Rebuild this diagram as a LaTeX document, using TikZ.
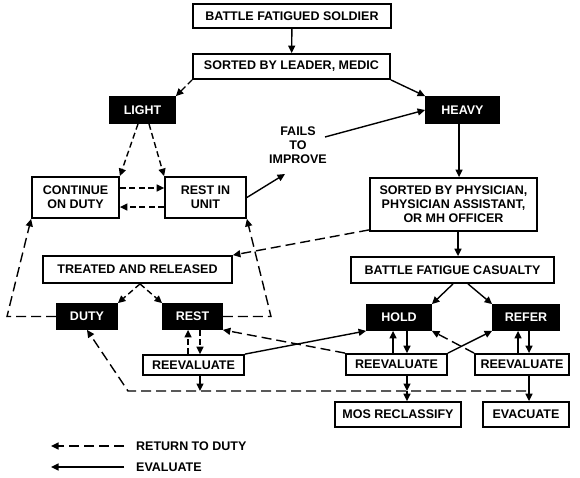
\documentclass[tikz,border=0pt]{standalone}
\usepackage{fontspec}
\setmainfont{Liberation Sans}
\usetikzlibrary{arrows.meta,calc}
\begin{document}
\begin{tikzpicture}[x=1pt,y=-1pt,
  every node/.style={font=\fontsize{12.5}{14}\selectfont\bfseries, inner sep=0pt},
  wbox/.style 2 args={draw, line width=1.8pt, fill=white, minimum width=#1, minimum height=#2, align=center},
  bbox/.style 2 args={draw, line width=1.8pt, fill=black, text=white, minimum width=#1, minimum height=#2, align=center},
  sol/.style={line width=1.4pt, -{Triangle[length=7.5pt,width=7pt]}},
  ds/.style={sol, dash pattern=on 6pt off 3.5pt},
  dl/.style={sol, dash pattern=on 10pt off 5pt}]
\useasboundingbox (0,0) rectangle (580,477);

% nodes
\node[wbox={198pt}{24pt}] (bfs) at (292,16) {BATTLE FATIGUED SOLDIER};
\node[wbox={197pt}{25pt}] (sbl) at (291.5,66.5) {SORTED BY LEADER, MEDIC};
\node[bbox={65pt}{26pt}] (light) at (142.5,110) {LIGHT};
\node[bbox={73pt}{26pt}] (heavy) at (462.5,110) {HEAVY};
\node[wbox={87pt}{41pt}] (cod) at (75.5,197.5) {CONTINUE\\ON DUTY};
\node[wbox={81pt}{41pt}] (riu) at (205.5,197.5) {REST IN\\UNIT};
\node[align=center] (fails) at (298,145) {FAILS\\TO\\IMPROVE};
\node[wbox={167pt}{53pt}] (sbp) at (453.5,204.5) {SORTED BY PHYSICIAN,\\PHYSICIAN ASSISTANT,\\OR MH OFFICER};
\node[wbox={189pt}{27pt}] (tar) at (137.5,269.5) {TREATED AND RELEASED};
\node[wbox={203pt}{26pt}] (bfc) at (452.5,270) {BATTLE FATIGUE CASUALTY};
\node[bbox={60pt}{25pt}] (duty) at (87,316.5) {DUTY};
\node[bbox={59pt}{25pt}] (rest) at (192.5,316.5) {REST};
\node[bbox={64pt}{25pt}] (hold) at (399,317.5) {HOLD};
\node[bbox={66pt}{25pt}] (refer) at (526,317.5) {REFER};
\node[wbox={101pt}{20pt}] (re1) at (193.5,365) {REEVALUATE};
\node[wbox={101pt}{21pt}] (re2) at (396.5,364.5) {REEVALUATE};
\node[wbox={94pt}{21pt}] (re3) at (522,364.5) {REEVALUATE};
\node[wbox={126pt}{25pt}] (mos) at (398,414.5) {MOS RECLASSIFY};
\node[wbox={86pt}{25pt}] (evac) at (526,414.5) {EVACUATE};
\node[anchor=west] (ltd) at (136,446) {RETURN TO DUTY};
\node[anchor=west] (lev) at (136,467) {EVALUATE};

\coordinate (fa) at (285,174);
\coordinate (fb) at (325,137);
\coordinate (bl) at (128,391);
\coordinate (br) at (526,391);
\coordinate (l1) at (51,446);
\coordinate (l2) at (51,467);

% top part
\draw[sol] (bfs) -- (sbl);
\draw[ds] (sbl.south west) -- (light.north east);
\draw[sol] (sbl.south east) -- (heavy.north west);
\draw[ds] ([xshift=-4.5pt]light.south) -- (cod.north east);
\draw[ds] ([xshift=6.5pt]light.south) -- (riu.north west);
\draw[ds] (cod.east |- 0,188) -- (riu.west |- 0,188);
\draw[ds] (riu.west |- 0,207) -- (cod.east |- 0,207);
\draw[sol] (riu.east) -- (fa);
\draw[sol] (fb) -- (heavy.west);
\draw[sol] ([xshift=-3.5pt]heavy.south) -- ([xshift=-3.5pt]heavy.south |- sbp.north);
\draw[dl] ([yshift=2pt]sbp.south west) -- (tar.north east);
\draw[sol] ([xshift=4.5pt]sbp.south) -- ([xshift=4.5pt]sbp.south |- bfc.north);
\draw[sol] ([xshift=0.5pt]bfc.south) -- (hold.north east);
\draw[sol] ([xshift=15.5pt]bfc.south) -- (refer.north west);

% left part
\draw[ds] ([xshift=2.5pt]tar.south) -- (duty.north east);
\draw[ds] ([xshift=2.5pt]tar.south) -- (rest.north west);
\draw[dl] (duty.west) -- (duty.west -| 7,0) -- (cod.south west);
\draw[dl] (rest.east) -- (rest.east -| 271,0) -- (riu.south east);
\draw[ds] (re1.north -| 188,0) -- (rest.south -| 188,0);
\draw[ds] (rest.south -| 200,0) -- (re1.north -| 200,0);

% bottom line
\draw[dl] (br) -- (bl) -- (duty.south);
\draw[sol] (re1.south -| 200,0) -- (bl -| 200,0);
\draw[sol] (re2.south -| 407,0) -- (bl -| 407,0);
\draw[sol] (bl -| 407,0) -- (mos.north -| 407,0);

% right part
\draw[sol] (re2.north -| 393,0) -- (hold.south -| 393,0);
\draw[sol] (hold.south -| 407,0) -- (re2.north -| 407,0);
\draw[sol] (re3.north -| 518,0) -- (refer.south -| 518,0);
\draw[sol] (refer.south -| 529,0) -- (re3.north -| 529,0);
\draw[sol] (re3.south -| 529,0) -- (evac.north -| 529,0);
\draw[sol] (re1.north east) -- (hold.south west);
\draw[dl] (re2.north west) -- (rest.south east);
\draw[sol] (re2.north east) -- (refer.south west);
\draw[dl] (re3.north west) -- (hold.south east);

% legend
\draw[dl] ([xshift=-12pt]ltd.west) -- (l1);
\draw[sol] ([xshift=-12pt]lev.west) -- (l2);
\end{tikzpicture}
\end{document}
